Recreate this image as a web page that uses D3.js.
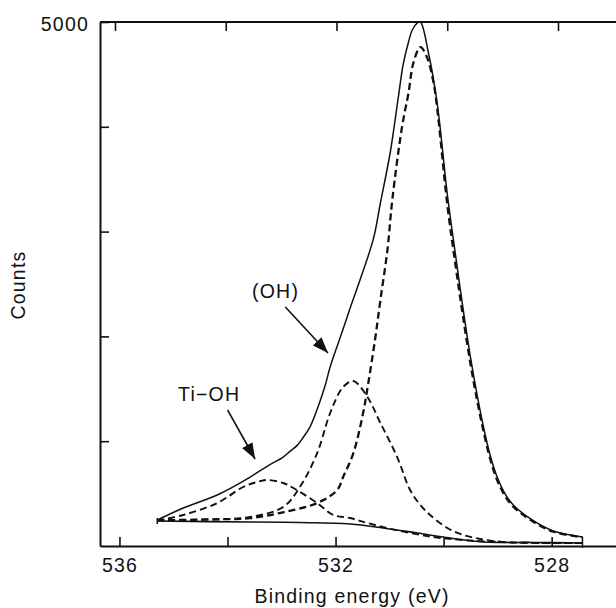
<!DOCTYPE html>
<html>
<head>
<meta charset="utf-8">
<script src="https://cdn.jsdelivr.net/npm/d3@7"></script>
<style>
  html, body { margin: 0; padding: 0; background: #fff; }
  svg { display: block; }
  text { font-family: "Liberation Sans", Arial, Helvetica, sans-serif; font-size: 19.5px; letter-spacing: 1.2px; fill: #111; }
</style>
</head>
<body>
<svg id="chart" width="616" height="608"></svg>
<script>
// ---- data ----
const envelopeEnergy = [535.30, 534.82, 534.19, 533.58, 533.26, 532.97, 532.84, 532.71, 532.60, 532.47, 532.38, 532.28, 532.19, 532.10, 531.86, 531.73, 531.54, 531.30, 531.17, 530.99, 530.84, 530.75, 530.65, 530.58, 530.49, 530.43, 530.28, 530.12, 529.93, 529.78, 529.65, 529.51, 529.38, 529.27, 529.14, 529.01, 528.86, 528.71, 528.39, 527.97, 527.43];
const envelopeCounts = [248, 363, 487, 658, 763, 849, 906, 960, 1035, 1140, 1250, 1393, 1536, 1708, 2070, 2270, 2550, 2930, 3273, 3750, 4275, 4590, 4809, 4924, 4990, 5000, 4704, 4227, 3349, 2777, 2300, 1823, 1441, 1155, 868, 658, 496, 391, 258, 143, 86];

const mainEnergy = [535.30, 534.19, 533.58, 532.97, 532.34, 531.97, 531.86, 531.67, 531.49, 531.40, 531.27, 531.17, 531.04, 530.95, 530.77, 530.65, 530.56, 530.43, 530.31, 530.19, 530.12, 529.93, 529.78, 529.65, 529.51, 529.38, 529.27, 529.14, 529.01, 528.86, 528.71, 528.39, 527.97, 527.43];
const mainCounts = [245, 255, 265, 322, 410, 534, 658, 887, 1269, 1536, 1966, 2347, 2824, 3302, 3998, 4323, 4609, 4761, 4666, 4430, 4180, 3250, 2680, 2220, 1760, 1390, 1115, 835, 630, 475, 375, 248, 136, 84];

const ohEnergy = [535.30, 534.19, 533.58, 532.97, 532.66, 532.34, 532.10, 531.86, 531.67, 531.41, 531.17, 530.86, 530.62, 530.43, 530.25, 529.93, 529.64, 529.32, 528.95, 528.39, 527.43];
const ohCounts = [245, 255, 277, 372, 563, 887, 1269, 1517, 1574, 1422, 1174, 849, 534, 391, 296, 172, 105, 67, 40, 30, 29];

const tiohEnergy = [535.30, 534.82, 534.19, 533.71, 533.45, 533.27, 532.97, 532.78, 532.34, 532.04, 531.73, 531.41, 530.80, 530.19, 529.64, 528.95, 528.39, 527.43];
const tiohCounts = [245, 296, 410, 563, 611, 630, 601, 553, 410, 296, 267, 219, 143, 86, 57, 38, 30, 29];

const baselineEnergy = [535.30, 533.58, 532.66, 531.73, 531.12, 530.49, 529.88, 529.26, 528.34, 527.43];
const baselineCounts = [238, 229, 224, 210, 172, 124, 76, 38, 34, 29];

const xTicks = [536, 534, 532, 530, 528];
const xTickLabels = ["536", "", "532", "", "528"];
const yTicks = [1000, 2000, 3000, 4000, 5000];
const yTickLabels = ["", "", "", "", "5000"];

const xTitle = "Binding energy (eV)";
const yTitle = "Counts";

// annotations in data coordinates: label position, arrow tail, arrow tip
const annLabels = ["(OH)", "Ti\u2212OH"];
const annLabelE = [533.11, 534.34];
const annLabelC = [2366, 1384];
const annTailE = [532.93, 534.00];
const annTailC = [2281, 1298];
const annTipE = [532.14, 533.49];
const annTipC = [1842, 830];

// ---- drawing ----
const svg = d3.select("#chart");
svg.append("rect").attr("width", 616).attr("height", 608).attr("fill", "#fff");

const x = d3.scaleLinear().domain([536.36, 526.8]).range([100, 616.5]);
const xTop = d3.scaleLinear().domain([536, 528]).range([115, 558]);
const y = d3.scaleLinear().domain([0, 5000]).range([546, 22]);

const zip = (E, C) => E.map((e, i) => ({e, c: C[i]}));
const line = d3.line().x(d => x(d.e)).y(d => y(d.c)).curve(d3.curveCatmullRom.alpha(0.5));

// axes
const gx = svg.append("g").attr("transform", "translate(0,546)")
  .call(d3.axisBottom(x).tickValues(xTicks).tickSize(-9).tickSizeOuter(0).tickPadding(12)
    .tickFormat((d, i) => xTickLabels[i]));
const gxt = svg.append("g").attr("transform", "translate(0,22)")
  .call(d3.axisTop(xTop).tickValues(xTicks).tickSize(-9).tickSizeOuter(0).tickFormat(""));
gxt.select(".domain").remove();
svg.append("line").attr("x1", 100).attr("x2", 616).attr("y1", y(5000)).attr("y2", y(5000))
  .attr("stroke", "#111").attr("stroke-width", 2);
const gy = svg.append("g").attr("transform", "translate(100,0)")
  .call(d3.axisLeft(y).tickValues(yTicks).tickSize(-9).tickSizeOuter(0).tickPadding(11)
    .tickFormat((d, i) => yTickLabels[i]));
gy.selectAll(".tick text").attr("dy", "0.42em");

[gx, gxt, gy].forEach(g => {
  g.selectAll(".domain").attr("stroke", "#111").attr("stroke-width", 2);
  g.selectAll(".tick line").attr("stroke", "#111").attr("stroke-width", 1.6);
  g.selectAll("text").attr("font-family", null).attr("font-size", null).attr("fill", "#111");
});

svg.append("text").attr("x", 352).attr("y", 603).attr("text-anchor", "middle").text(xTitle);
svg.append("text").attr("transform", "translate(25,285) rotate(-90)").attr("text-anchor", "middle").text(yTitle);

// curves
const plot = svg.append("g");
plot.append("path").datum(zip(baselineEnergy, baselineCounts)).attr("d", line)
  .attr("fill", "none").attr("stroke", "#111").attr("stroke-width", 1.6);
plot.append("path").datum(zip(tiohEnergy, tiohCounts)).attr("d", line)
  .attr("fill", "none").attr("stroke", "#111").attr("stroke-width", 1.9).attr("stroke-dasharray", "7,4");
plot.append("path").datum(zip(ohEnergy, ohCounts)).attr("d", line)
  .attr("fill", "none").attr("stroke", "#111").attr("stroke-width", 1.9).attr("stroke-dasharray", "7,4");
plot.append("path").datum(zip(mainEnergy, mainCounts)).attr("d", line)
  .attr("fill", "none").attr("stroke", "#111").attr("stroke-width", 2.3).attr("stroke-dasharray", "7,4");
plot.append("path").datum(zip(envelopeEnergy, envelopeCounts)).attr("d", line)
  .attr("fill", "none").attr("stroke", "#111").attr("stroke-width", 1.5);

// region limit markers at ends of the background
const limits = [baselineEnergy[0], baselineEnergy[baselineEnergy.length - 1]];
plot.selectAll(".lim").data(limits).enter().append("line")
  .attr("x1", d => x(d)).attr("x2", d => x(d))
  .attr("y1", (d, i) => i === 0 ? y(envelopeCounts[0]) - 2 : y(envelopeCounts[envelopeCounts.length - 1]))
  .attr("y2", (d, i) => i === 0 ? y(baselineCounts[0]) + 3 : 548)
  .attr("stroke", "#111").attr("stroke-width", 1.5);

// annotations
const defs = svg.append("defs");
defs.append("marker").attr("id", "ah").attr("viewBox", "0 0 16 12").attr("refX", 16).attr("refY", 6)
  .attr("markerWidth", 16).attr("markerHeight", 12).attr("markerUnits", "userSpaceOnUse").attr("orient", "auto")
  .append("path").attr("d", "M0,0 L16,6 L0,12 Z").attr("fill", "#111");

annLabels.forEach((t, i) => {
  svg.append("text").attr("x", x(annLabelE[i])).attr("y", y(annLabelC[i])).attr("text-anchor", "middle").text(t);
  svg.append("line").attr("x1", x(annTailE[i])).attr("y1", y(annTailC[i]))
    .attr("x2", x(annTipE[i])).attr("y2", y(annTipC[i]))
    .attr("stroke", "#111").attr("stroke-width", 1.6).attr("marker-end", "url(#ah)");
});
</script>
</body>
</html>
